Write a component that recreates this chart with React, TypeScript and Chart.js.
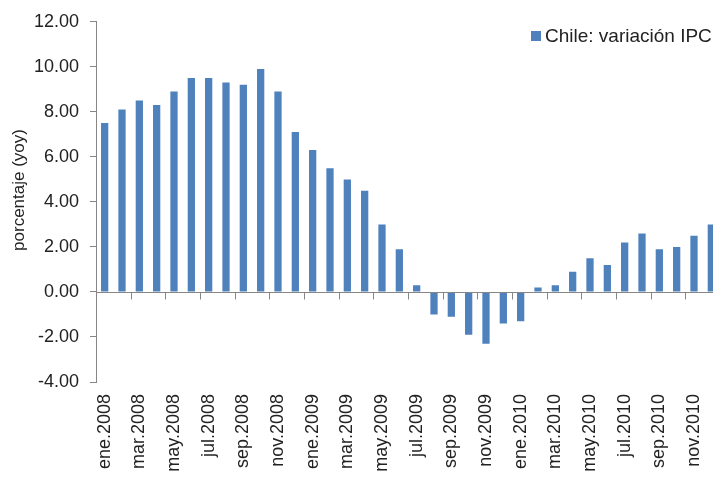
import React, { useEffect, useRef } from "react";
import { Chart, registerables } from "chart.js";

Chart.register(...registerables);

// Chile: year-over-year CPI change, monthly, ene.2008 – dic.2010
const MONTHS = ["ene", "feb", "mar", "abr", "may", "jun", "jul", "ago", "sep", "oct", "nov", "dic"];
const YEARS = [2008, 2009, 2010];
const CATEGORIES = YEARS.flatMap((y) => MONTHS.map((m) => `${m}.${y}`));

const IPC_2008 = [7.5, 8.1, 8.5, 8.3, 8.9, 9.5, 9.5, 9.3, 9.2, 9.9, 8.9, 7.1];
const IPC_2009 = [6.3, 5.5, 5.0, 4.5, 3.0, 1.9, 0.3, -1.0, -1.1, -1.9, -2.3, -1.4];
const IPC_2010 = [-1.3, 0.2, 0.3, 0.9, 1.5, 1.2, 2.2, 2.6, 1.9, 2.0, 2.5, 3.0];
const IPC_VALUES = [...IPC_2008, ...IPC_2009, ...IPC_2010];

const SERIES_LABEL = "Chile: variación IPC";
const Y_TITLE = "porcentaje (yoy)";
const Y_MIN = -4;
const Y_MAX = 12;
const Y_STEP = 2;

const BAR_COLOR = "#4F81BD";
const AXIS_COLOR = "#868686";
const TEXT_COLOR = "#222222";
const FONT_FAMILY = "'Liberation Sans', Arial, sans-serif";

// Zero line with tick marks every two months, a rotated axis title and an in-plot legend
const decorations = {
  id: "decorations",
  afterDatasetsDraw(chart: any) {
    const { ctx, chartArea, scales } = chart;
    const x = scales.x;
    const y = scales.y;
    const y0 = Math.round(y.getPixelForValue(0)) + 0.5;
    ctx.save();
    ctx.strokeStyle = AXIS_COLOR;
    ctx.lineWidth = 1;
    ctx.beginPath();
    ctx.moveTo(chartArea.left, y0);
    ctx.lineTo(chartArea.right, y0);
    const n = CATEGORIES.length;
    const step = (chartArea.right - chartArea.left) / n;
    for (let i = 2; i <= n; i += 2) {
      const px = Math.round(x.getPixelForValue(i) - step / 2) + 0.5;
      ctx.moveTo(px, y0);
      ctx.lineTo(px, y0 + 7);
    }
    ctx.stroke();

    // axis title
    ctx.fillStyle = TEXT_COLOR;
    ctx.font = `17px ${FONT_FAMILY}`;
    ctx.textAlign = "center";
    ctx.textBaseline = "middle";
    ctx.translate(19, 190);
    ctx.rotate(-Math.PI / 2);
    ctx.fillText(Y_TITLE, 0, 0);
    ctx.restore();

    // legend
    ctx.save();
    ctx.fillStyle = chart.data.datasets[0].backgroundColor;
    ctx.fillRect(531, 31, 10, 10);
    ctx.fillStyle = TEXT_COLOR;
    ctx.font = `19px ${FONT_FAMILY}`;
    ctx.textAlign = "left";
    ctx.textBaseline = "middle";
    ctx.fillText(SERIES_LABEL, 545, 37);
    ctx.restore();
  },
};

export default function App() {
  const canvasRef = useRef<HTMLCanvasElement | null>(null);

  useEffect(() => {
    document.body.style.margin = "0";
    const canvas = canvasRef.current;
    if (!canvas) return;
    const chart = new Chart(canvas, {
      type: "bar",
      data: {
        labels: CATEGORIES,
        datasets: [
          {
            label: SERIES_LABEL,
            data: IPC_VALUES,
            backgroundColor: BAR_COLOR,
            borderWidth: 0,
            barPercentage: 0.42,
            categoryPercentage: 1,
          },
        ],
      },
      options: {
        responsive: false,
        animation: false,
        devicePixelRatio: 1,
        layout: { padding: { top: 18, right: 2, left: 0, bottom: 0 } },
        plugins: {
          legend: { display: false },
          tooltip: { enabled: false },
        },
        scales: {
          x: {
            grid: { display: false },
            border: { display: false },
            afterFit: (scale: any) => {
              scale.height = 99;
              scale.paddingLeft = 0;
              scale.paddingRight = 0;
            },
            ticks: {
              autoSkip: false,
              minRotation: 90,
              maxRotation: 90,
              padding: 4,
              color: TEXT_COLOR,
              font: { size: 18, family: FONT_FAMILY },
              callback: function (this: any, value: any, index: number) {
                return index % 2 === 0 ? this.getLabelForValue(value) : "";
              },
            },
          },
          y: {
            min: Y_MIN,
            max: Y_MAX,
            afterFit: (scale: any) => {
              scale.width = 96;
            },
            grid: {
              drawOnChartArea: false,
              drawTicks: true,
              tickLength: 6,
              tickColor: AXIS_COLOR,
            },
            border: { display: true, color: AXIS_COLOR, width: 1 },
            ticks: {
              stepSize: Y_STEP,
              padding: 11,
              color: TEXT_COLOR,
              font: { size: 18, family: FONT_FAMILY },
              callback: (v: any) => Number(v).toFixed(2),
            },
          },
        },
      },
      plugins: [decorations],
    });
    return () => chart.destroy();
  }, []);

  return (
    <div style={{ width: 713, height: 481, overflow: "hidden", position: "relative", background: "#fff" }}>
      <canvas ref={canvasRef} width={722} height={481} style={{ display: "block" }} />
    </div>
  );
}
